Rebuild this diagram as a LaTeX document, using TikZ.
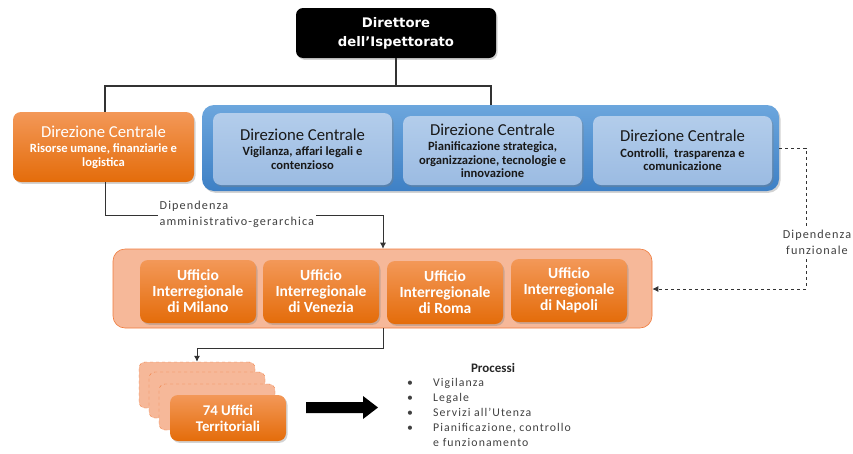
\documentclass[tikz,border=0pt]{standalone}
\usepackage{fontspec}
\setmainfont{Carlito}
\newfontfamily\dirfont{DejaVu Sans}
\newfontfamily\spfont[LetterSpace=9]{Carlito}
\usetikzlibrary{shadows,arrows.meta}
\definecolor{orT}{HTML}{F39858}
\definecolor{orB}{HTML}{E46C0A}
\definecolor{salmon}{HTML}{F6B899}
\definecolor{salmonE}{HTML}{F07B3C}
\definecolor{blT}{HTML}{6CA6DD}
\definecolor{blB}{HTML}{3E80C5}
\definecolor{lbT}{HTML}{B3CDEB}
\definecolor{lbB}{HTML}{9BBBE2}
\definecolor{txtg}{HTML}{404040}
\definecolor{linec}{HTML}{333333}
\tikzset{
  shad/.style={drop shadow={opacity=0.35,shadow xshift=1.5pt,shadow yshift=-1.8pt}},
  orbox/.style={shad,rounded corners=8pt,top color=orT,bottom color=orB,draw=none,text=white,align=center,inner sep=1pt},
  lbbox/.style={shad,rounded corners=8pt,top color=lbT,bottom color=lbB,draw=none,text=black!90,align=center,inner sep=1pt},
  dcbox/.style={font=\fontsize{12.6}{13.5}\selectfont\bfseries},
  uffbox/.style={orbox,minimum width=116pt,minimum height=63pt,font=\fontsize{15.5}{16}\selectfont\bfseries},
  stackbox/.style={rounded corners=6pt,fill=salmon,draw=salmonE,dashed,minimum width=116pt,minimum height=46pt},
  conn/.style={draw=linec,line width=0.8pt},
  lab/.style={fill=white,text=txtg,inner sep=1.5pt,font=\spfont\fontsize{12.2}{16}\selectfont},
}
\newcommand{\dctitle}{\fontsize{16.7}{13}\selectfont\mdseries Direzione Centrale}
\begin{document}
\begin{tikzpicture}[x=1pt,y=-1pt]
\useasboundingbox (0,0) rectangle (853,453);
% director
\node[shad,rounded corners=7pt,fill=black,text=white,minimum width=200pt,minimum height=50pt,align=center,
  font=\dirfont\bfseries\fontsize{13.2}{19}\selectfont] (dir) at (396,33) {Direttore\\dell’Ispettorato};
% orange DC
\node[orbox,dcbox,minimum width=181pt,minimum height=70pt] (dcr) at (103.5,147)
  {{\dctitle}\\[2pt]Risorse umane, finanziarie e\\logistica};
% blue group
\node[shad,rounded corners=12pt,top color=blT,bottom color=blB,minimum width=577pt,minimum height=86pt] (blue) at (490.5,148) {};
\node[lbbox,dcbox,minimum width=179pt,minimum height=72pt] (dcv) at (302.5,149)
  {{\dctitle}\\[2pt]Vigilanza, affari legali e\\contenzioso};
\node[lbbox,dcbox,minimum width=179pt,minimum height=69pt] (dcp) at (492.5,150.5)
  {{\dctitle}\\[2pt]Pianificazione strategica,\\organizzazione, tecnologie e\\innovazione};
\node[lbbox,dcbox,minimum width=179pt,minimum height=69pt] (dcc) at (682.5,150.5)
  {{\dctitle}\\[2pt]Controlli,~ trasparenza e\\comunicazione};
% interregional group
\node[rounded corners=12pt,fill=salmon,draw=salmonE,line width=0.6pt,minimum width=539pt,minimum height=79pt] (ui) at (382.5,288.5) {};
\node[uffbox] (mi) at (198,291.5) {Ufficio\\Interregionale\\di Milano};
\node[uffbox] (ve) at (321,291.5) {Ufficio\\Interregionale\\di Venezia};
\node[uffbox] (ro) at (445,292.5) {Ufficio\\Interregionale\\di Roma};
\node[uffbox] (na) at (569,290.5) {Ufficio\\Interregionale\\di Napoli};
% territorial stack
\node[stackbox] (sa) at (197,385) {};
\node[stackbox] (sb) at (207,395) {};
\node[stackbox] (sc) at (217,407) {};
\node[orbox,minimum width=116pt,minimum height=46pt,font=\fontsize{14.8}{16}\selectfont\bfseries] (ut) at (228,418)
  {74 Uffici\\Territoriali};
% connectors
\coordinate (hl) at (105,86);
\coordinate (hr) at (491,86);
\draw[conn,line width=1.1pt] (dir.south) -- (dir.south |- hr);
\draw[conn,line width=1.1pt] (hl |- dcr.north) -- (hl) -- (hr) -- (hr |- blue.north);
\coordinate (al) at (105,215);
\coordinate (ar) at (383,215);
\draw[conn,-{Latex[length=6pt,width=6pt]}] (al |- dcr.south) -- (al) -- (ar) -- (ar |- ui.north);
\node[lab,align=left,anchor=west] (labA) at (158,214) {Dipendenza\\amministrativo-gerarchica};
\coordinate (dr) at (806,148);
\coordinate (db) at (806,289);
\draw[conn,dashed,-{Latex[length=6pt,width=6pt]}] (blue.east |- dr) -- (dr) -- (db) -- (ui.east |- db);
\node[lab,align=center] (labB) at (817,242) {Dipendenza\\funzionale};
\coordinate (tr) at (383,348);
\coordinate (tl) at (197,348);
\draw[conn,-{Latex[length=6pt,width=6pt]}] (tr |- ui.south) -- (tr) -- (tl) -- (sa.north);
% big arrow
\fill[black] (306,402) -- (363,402) -- (363,396) -- (378,407.5) -- (363,419) -- (363,413) -- (306,413) -- cycle;
% processes
\node[font=\fontsize{13}{14}\selectfont\bfseries,text=black!85] (proc) at (493,368) {Processi};
\node[anchor=north west,inner sep=0pt,text=txtg,font=\spfont\fontsize{11.8}{15}\selectfont] (plist) at (407,375.5)
{\def\arraystretch{1.0}\begin{tabular}{@{}p{26pt}@{}l@{}}
\textbullet & Vigilanza\\
\textbullet & Legale\\
\textbullet & Servizi all’Utenza\\
\textbullet & Pianificazione, controllo\\
 & e funzionamento
\end{tabular}};
\end{tikzpicture}
\end{document}
